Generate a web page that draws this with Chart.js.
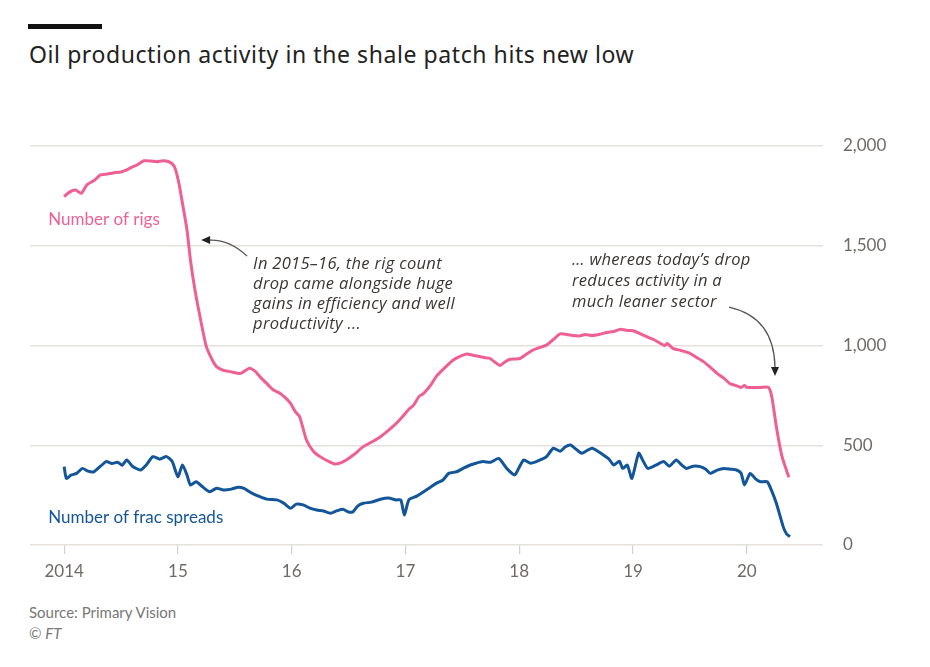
<!DOCTYPE html>
<html>
<head>
<meta charset="utf-8">
<script src="https://cdn.jsdelivr.net/npm/chart.js@4.4.1/dist/chart.umd.min.js"></script>
<style>
  html, body { margin:0; padding:0; background:#fff; }
  body { width:930px; height:667px; position:relative; overflow:hidden; }
  #bar { position:absolute; left:28px; top:24px; width:74px; height:5px; background:#111; }
  #title { position:absolute; left:29px; top:38px; font-family:"Noto Sans", sans-serif; font-size:23px; color:#222; white-space:nowrap; letter-spacing:0.58px; }
  #src { position:absolute; left:29px; top:602px; font-family:Lato, sans-serif; font-size:15px; color:#777; line-height:21px; }
  canvas { position:absolute; left:0; top:0; }
</style>
</head>
<body>
<div id="bar"></div>
<div id="title">Oil production activity in the shale patch hits new low</div>
<div id="src">Source: Primary Vision<br>© <i>FT</i></div>
<canvas id="c" width="930" height="667"></canvas>
<script>
// ---- data (decimal years, counts) ----
const rigDates = [2014.00,2014.05,2014.10,2014.15,2014.20,2014.27,2014.32,2014.38,2014.43,2014.50,2014.55,2014.60,2014.64,2014.70,2014.76,2014.81,2014.87,2014.92,2014.96,2014.98,2015.01,2015.03,2015.08,2015.11,2015.15,2015.20,2015.25,2015.30,2015.34,2015.40,2015.46,2015.55,2015.63,2015.68,2015.72,2015.78,2015.84,2015.90,2015.95,2015.99,2016.03,2016.07,2016.13,2016.19,2016.25,2016.32,2016.38,2016.43,2016.48,2016.55,2016.63,2016.70,2016.78,2016.85,2016.92,2016.97,2017.03,2017.07,2017.12,2017.16,2017.22,2017.27,2017.34,2017.42,2017.48,2017.54,2017.60,2017.66,2017.71,2017.74,2017.79,2017.83,2017.88,2017.92,2017.97,2018.01,2018.06,2018.12,2018.18,2018.24,2018.30,2018.36,2018.42,2018.47,2018.53,2018.58,2018.64,2018.71,2018.77,2018.83,2018.89,2018.95,2019.00,2019.06,2019.12,2019.18,2019.24,2019.28,2019.30,2019.35,2019.42,2019.50,2019.56,2019.62,2019.68,2019.74,2019.80,2019.85,2019.90,2019.95,2019.98,2020.00,2020.05,2020.12,2020.19,2020.22,2020.26,2020.31,2020.37];
const rigCounts = [1746,1770,1779,1763,1805,1830,1855,1860,1865,1870,1880,1895,1905,1926,1925,1921,1926,1921,1905,1880,1810,1746,1579,1429,1278,1128,994,930,894,875,869,860,886,870,844,810,777,760,735,710,670,643,526,470,443,420,406,412,426,455,493,515,543,575,610,640,680,700,745,760,800,844,885,927,945,957,950,944,938,936,915,900,920,931,932,936,955,977,990,1002,1030,1058,1055,1050,1048,1055,1050,1056,1065,1070,1081,1075,1074,1060,1044,1030,1011,1000,1010,986,975,961,940,919,890,860,835,810,800,790,800,790,790,790,790,743,593,443,340];

const fracDates = [2014.00,2014.02,2014.06,2014.11,2014.16,2014.21,2014.26,2014.32,2014.37,2014.42,2014.47,2014.51,2014.55,2014.60,2014.67,2014.72,2014.78,2014.84,2014.90,2014.95,2015.00,2015.04,2015.08,2015.11,2015.16,2015.22,2015.28,2015.34,2015.40,2015.47,2015.53,2015.58,2015.65,2015.72,2015.78,2015.87,2015.93,2015.99,2016.04,2016.10,2016.16,2016.22,2016.28,2016.34,2016.40,2016.45,2016.50,2016.54,2016.58,2016.63,2016.70,2016.78,2016.85,2016.92,2016.96,2016.99,2017.03,2017.10,2017.16,2017.22,2017.27,2017.33,2017.38,2017.45,2017.51,2017.57,2017.62,2017.68,2017.75,2017.82,2017.89,2017.96,2018.00,2018.04,2018.10,2018.15,2018.20,2018.24,2018.30,2018.36,2018.40,2018.45,2018.50,2018.55,2018.60,2018.64,2018.69,2018.74,2018.79,2018.83,2018.88,2018.91,2018.95,2018.99,2019.05,2019.09,2019.13,2019.20,2019.27,2019.32,2019.38,2019.43,2019.47,2019.53,2019.59,2019.64,2019.68,2019.74,2019.80,2019.86,2019.91,2019.95,2019.98,2020.03,2020.08,2020.12,2020.18,2020.22,2020.26,2020.32,2020.35,2020.38];
const fracCounts = [393,334,350,359,384,370,367,395,418,409,415,400,426,395,376,400,443,430,443,418,342,401,350,301,317,290,267,285,276,280,290,284,260,242,230,226,210,184,205,201,185,175,170,159,172,179,165,167,195,209,215,229,235,226,225,150,226,245,267,290,309,326,359,367,385,401,410,418,415,434,384,351,390,426,410,418,430,443,485,470,490,501,480,460,475,485,470,451,430,401,420,384,400,334,460,420,384,400,418,395,426,400,384,395,393,380,359,375,384,380,376,360,301,359,330,317,317,270,209,92,55,42];

const yearTicks = [2014, 2015, 2016, 2017, 2018, 2019, 2020];
const yearLabels = ['2014', '15', '16', '17', '18', '19', '20'];
const valueTicks = [0, 500, 1000, 1500, 2000];

const seriesNames = ['Number of rigs', 'Number of frac spreads'];
const note1 = ['In 2015\u201316, the rig count', 'drop came alongside huge', 'gains in efficiency and well', 'productivity ...'];
const note2 = ['\u2026 whereas today\u2019s drop', 'reduces activity in a', 'much leaner sector'];

// ---- styles ----
const PINK = '#ee5f93';
const BLUE = '#135599';
const GRID = '#e6e1dc';
const TICKTXT = '#6f6a66';
const NOTETXT = '#3a3633';

function pts(xs, ys) { return xs.map((x, i) => ({ x: x, y: ys[i] })); }

const annotations = {
  id: 'annotations',
  afterDatasetsDraw(chart) {
    const { ctx, scales: { x, y } } = chart;
    ctx.save();
    // series labels
    ctx.font = '17px Lato, sans-serif';
    ctx.textBaseline = 'middle';
    ctx.textAlign = 'left';
    ctx.fillStyle = PINK;
    ctx.fillText(seriesNames[0], x.getPixelForValue(2013.86), y.getPixelForValue(1629));
    ctx.fillStyle = BLUE;
    ctx.fillText(seriesNames[1], x.getPixelForValue(2013.86), y.getPixelForValue(140));

    // notes
    ctx.font = 'italic 16.5px "Open Sans", sans-serif';
    if ('letterSpacing' in ctx) ctx.letterSpacing = '0.3px';
    ctx.fillStyle = NOTETXT;
    let nx = x.getPixelForValue(2015.661), ny = y.getPixelForValue(1408);
    note1.forEach((t, i) => ctx.fillText(t, nx, ny + i * 20));
    let mx = x.getPixelForValue(2018.464), my = y.getPixelForValue(1428);
    note2.forEach((t, i) => ctx.fillText(t, mx, my + i * 21));
    if ('letterSpacing' in ctx) ctx.letterSpacing = '0px';

    // arrows
    ctx.strokeStyle = '#555';
    ctx.fillStyle = '#222';
    ctx.lineWidth = 1.3;
    // arrow 1 (curving to the left, near rig drop)
    let ax = nx - 6, ay = ny - 8;
    ctx.beginPath();
    ctx.moveTo(ax, ay);
    ctx.quadraticCurveTo(ax - 18, ay - 17, ax - 38, ay - 16);
    ctx.stroke();
    ctx.beginPath();
    ctx.moveTo(ax - 46, ay - 16);
    ctx.lineTo(ax - 37, ay - 20);
    ctx.lineTo(ax - 37, ay - 12);
    ctx.closePath();
    ctx.fill();
    // arrow 2 (curving down to 2020 drop)
    let bx = mx + 157, by = my + 47;
    ctx.beginPath();
    ctx.moveTo(bx, by);
    ctx.quadraticCurveTo(bx + 45, by + 10, bx + 46, by + 60);
    ctx.stroke();
    ctx.beginPath();
    ctx.moveTo(bx + 46, by + 69);
    ctx.lineTo(bx + 42, by + 60);
    ctx.lineTo(bx + 50, by + 60);
    ctx.closePath();
    ctx.fill();
    ctx.restore();
  }
};

new Chart(document.getElementById('c'), {
  type: 'line',
  data: {
    datasets: [
      { label: seriesNames[0], data: pts(rigDates, rigCounts), borderColor: PINK, borderWidth: 3, pointRadius: 0, tension: 0.2, fill: false },
      { label: seriesNames[1], data: pts(fracDates, fracCounts), borderColor: BLUE, borderWidth: 3, pointRadius: 0, tension: 0.2, fill: false }
    ]
  },
  options: {
    responsive: false,
    animation: false,
    devicePixelRatio: 1,
    layout: { padding: { left: 30, right: 0, top: 146, bottom: 72 } },
    plugins: { legend: { display: false }, tooltip: { enabled: false } },
    scales: {
      x: {
        type: 'linear',
        min: 2013.7, max: 2020.67,
        afterBuildTicks: s => { s.ticks = yearTicks.map(v => ({ value: v })); },
        afterFit: s => { s.height = 50; },
        grid: { drawOnChartArea: false, drawTicks: true, tickLength: 9, color: '#d4cfca', lineWidth: 1.2 },
        border: { display: false },
        ticks: {
          padding: 7,
          color: TICKTXT,
          font: { family: 'Lato, sans-serif', size: 17 },
          callback: v => { const i = yearTicks.indexOf(v); return i >= 0 ? yearLabels[i] : ''; },
          maxRotation: 0, autoSkip: false
        }
      },
      y: {
        position: 'right',
        min: 0, max: 2000,
        afterBuildTicks: s => { s.ticks = valueTicks.map(v => ({ value: v })); },
        afterFit: s => { s.width = 930 - 823; },
        grid: { color: GRID, lineWidth: 1.5, drawTicks: false },
        border: { display: false },
        ticks: {
          padding: 20,
          color: TICKTXT,
          font: { family: 'Lato, sans-serif', size: 17 },
          callback: v => v.toLocaleString('en-US')
        }
      }
    }
  },
  plugins: [annotations]
});
</script>
</body>
</html>
